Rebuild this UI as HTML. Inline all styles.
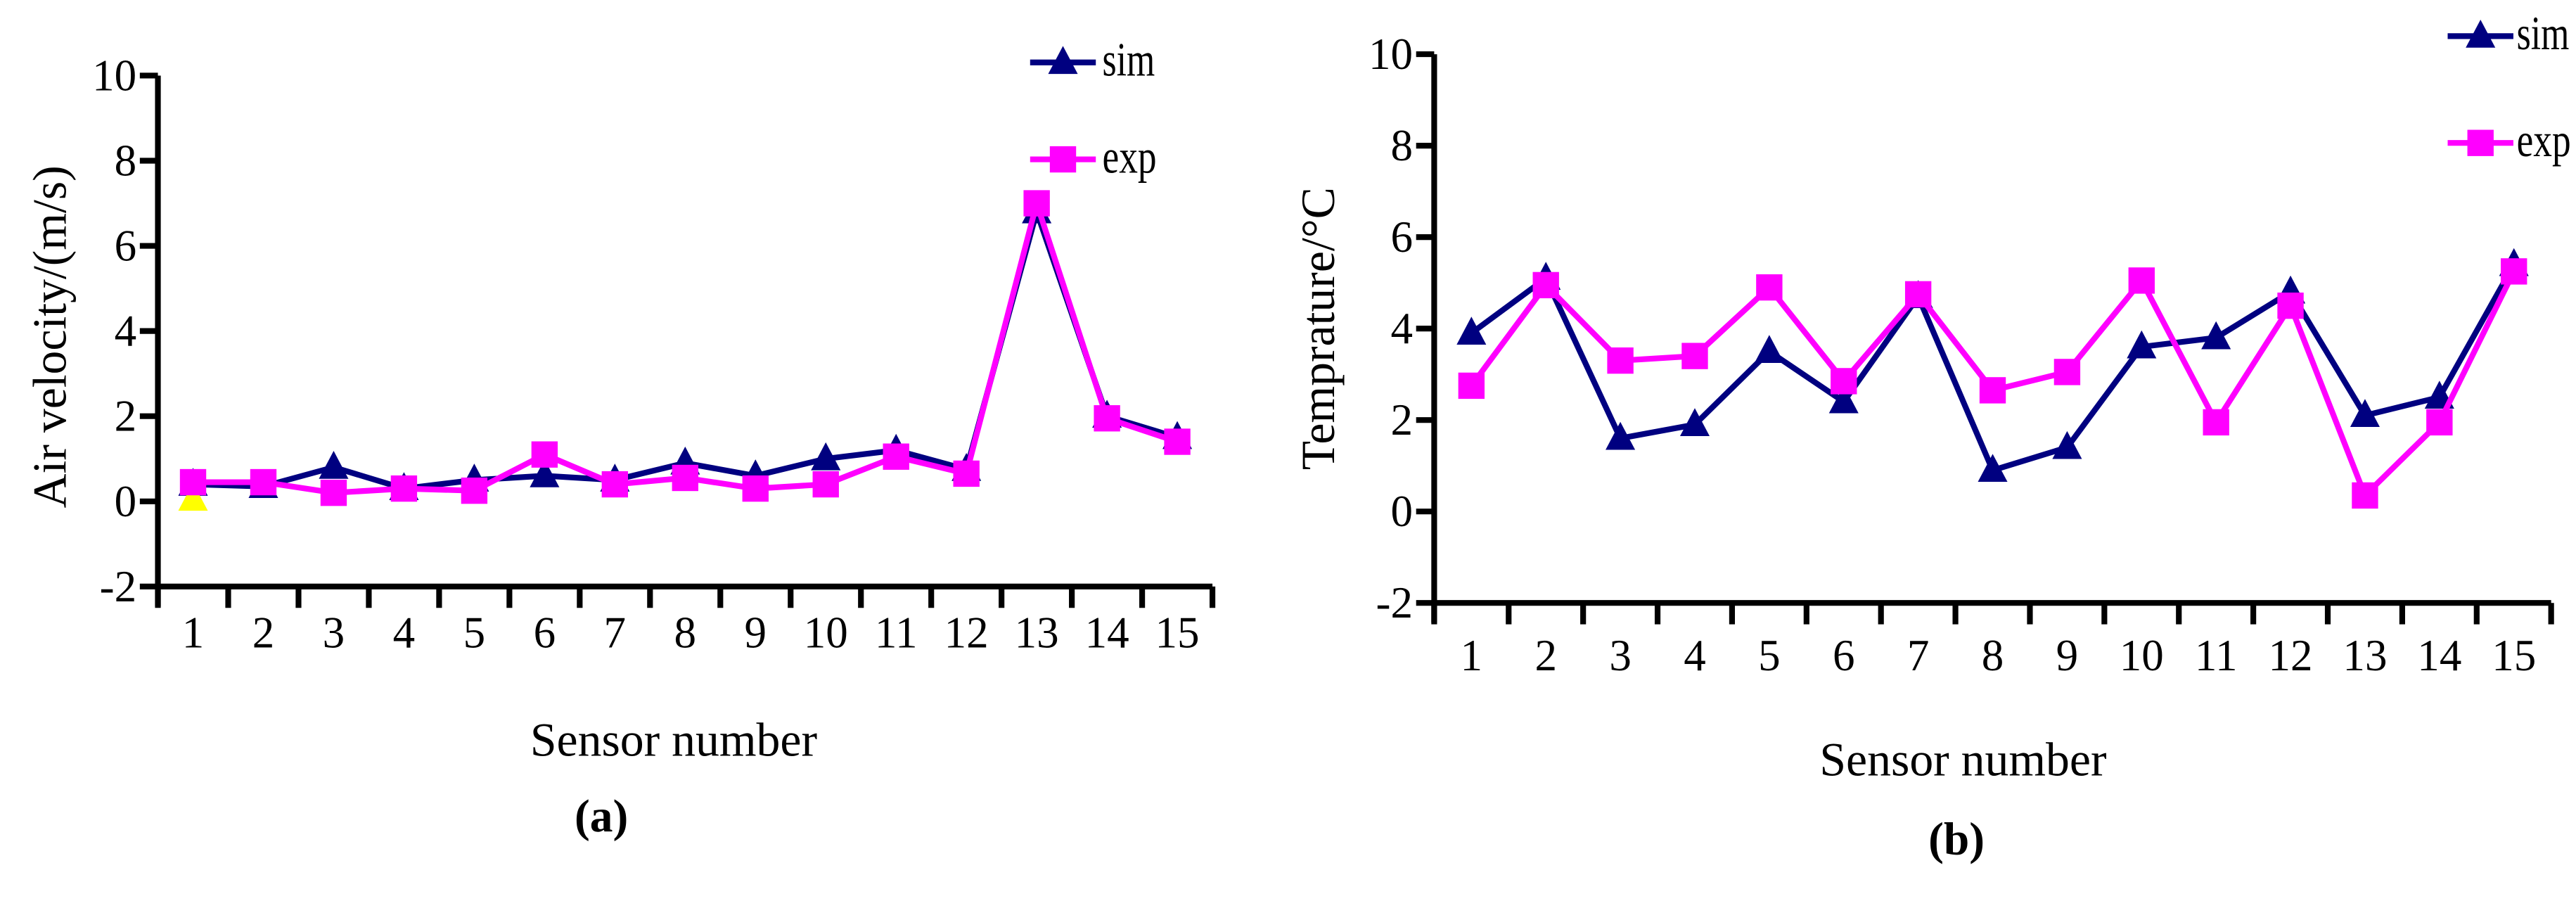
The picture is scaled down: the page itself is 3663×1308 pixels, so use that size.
<!DOCTYPE html>
<html><head><meta charset="utf-8"><style>
html,body{margin:0;padding:0;background:#fff;}
svg{display:block;font-family:"Liberation Serif",serif;}
</style></head><body>
<svg id="fig" width="3663" height="1308" viewBox="0 0 1568 560" xmlns="http://www.w3.org/2000/svg"></svg>
<script>
const categories = [1,2,3,4,5,6,7,8,9,10,11,12,13,14,15];
const yTicks = [-2,0,2,4,6,8,10];
const simA = [0.4,0.35,0.8,0.3,0.5,0.6,0.5,0.9,0.6,1.0,1.2,0.75,6.8,2.0,1.5];
const expA = [0.45,0.45,0.2,0.3,0.25,1.1,0.4,0.55,0.3,0.4,1.05,0.65,7.0,1.95,1.4];
const simB = [3.9,5.1,1.6,1.9,3.5,2.4,4.7,0.9,1.4,3.6,3.8,4.8,2.1,2.5,5.4];
const expB = [2.75,4.95,3.3,3.4,4.9,2.85,4.75,2.65,3.05,5.05,1.95,4.5,0.35,1.95,5.25];
const seriesNames = ["sim","exp"];

const NS="http://www.w3.org/2000/svg";
const svg=document.getElementById('fig');
function mk(tag,attrs,parent,text){const e=document.createElementNS(NS,tag);for(const k in attrs)e.setAttribute(k,attrs[k]);if(text!==undefined)e.textContent=text;(parent||svg).appendChild(e);return e;}

function tri(g,x,y,c){return mk('polygon',{points:`${x},${y-10} ${x-9},${y+7} ${x+9},${y+7}`,fill:c},g);}
function sq(g,x,y,c){return mk('rect',{x:x-8,y:y-8,width:16,height:16,fill:c},g);}

function chart(cfg){
  const g=mk('g',{});
  
  
  const {x0,x1,yTop,yBot}=cfg;
  const ymin=-2,ymax=10;
  const Y=v=>yBot-(v-ymin)/(ymax-ymin)*(yBot-yTop);
  const cw=(x1-x0)/categories.length;
  const X=i=>x0+cw*(i+0.5);
  const ya=mk('line',{x1:x0,y1:yTop,x2:x0,y2:yBot+12,stroke:'#000','stroke-width':3.5},g);
  
  yTicks.forEach(t=>{
    mk('line',{x1:x0-11,y1:Y(t),x2:x0,y2:Y(t),stroke:'#000','stroke-width':3.5},g);
    const tl=mk('text',{x:x0-13,y:Y(t)+9,'text-anchor':'end','font-size':27},g,String(t));
    
  });
  const xa=mk('line',{x1:x0,y1:yBot,x2:x1,y2:yBot,stroke:'#000','stroke-width':3.5},g);
  
  for(let i=0;i<=categories.length;i++){
    mk('line',{x1:x0+cw*i,y1:yBot,x2:x0+cw*i,y2:yBot+13,stroke:'#000','stroke-width':3.5},g);
  }
  categories.forEach((c,i)=>{
    const tl=mk('text',{x:X(i),y:cfg.catY,'text-anchor':'middle','font-size':27},g,String(c));
    
  });
  const xt=mk('text',{x:cfg.xtX,y:cfg.xtY,'text-anchor':'middle','font-size':29},g,'Sensor number');
  
  const yt=mk('text',{x:0,y:0,'text-anchor':'middle','font-size':29,transform:`translate(${cfg.ytX},${cfg.ytY}) rotate(-90)`},g,cfg.ytitle);
  
  const pl=mk('text',{x:cfg.plX,y:cfg.plY,'text-anchor':'middle','font-size':28,'font-weight':'bold'},g,cfg.panel);
  
  const sp=mk('polyline',{points:cfg.sim.map((v,i)=>X(i)+','+Y(v)).join(' '),fill:'none',stroke:'#000080','stroke-width':3.5},g);
  
  cfg.sim.forEach((v,i)=>{const m=tri(g,X(i),Y(v),'#000080');});
  if(cfg.yellow){const m=tri(g,X(0),Y(0.05),'#ffff00');}
  const ep=mk('polyline',{points:cfg.exp.map((v,i)=>X(i)+','+Y(v)).join(' '),fill:'none',stroke:'#ff00ff','stroke-width':3.5},g);
  
  cfg.exp.forEach((v,i)=>{const m=sq(g,X(i),Y(v),'#ff00ff');});
  const lg=mk('g',{},g);
  
  const lx=cfg.legX;
  mk('line',{x1:lx,y1:cfg.legY1,x2:lx+40,y2:cfg.legY1,stroke:'#000080','stroke-width':3.5},lg);
  tri(lg,lx+20,cfg.legY1,'#000080');
  const s1=mk('text',{x:lx+cfg.legT,y:cfg.legY1+8,'font-size':29,textLength:32,lengthAdjust:'spacingAndGlyphs'},lg,seriesNames[0]);
  
  mk('line',{x1:lx,y1:cfg.legY2,x2:lx+40,y2:cfg.legY2,stroke:'#ff00ff','stroke-width':3.5},lg);
  sq(lg,lx+20,cfg.legY2,'#ff00ff');
  const s2=mk('text',{x:lx+cfg.legT,y:cfg.legY2+8,'font-size':29,textLength:33,lengthAdjust:'spacingAndGlyphs'},lg,seriesNames[1]);
  
}
chart({name:'chart-a-air-velocity',x0:96,x1:738,yTop:46,yBot:357,catY:394,xtX:410,xtY:460,ytX:40,ytY:205,ytitle:'Air velocity/(m/s)',plX:366,plY:506,panel:'(a)',sim:simA,exp:expA,yellow:true,legX:627,legY1:38,legY2:97,legT:44});
chart({name:'chart-b-temperature',x0:873,x1:1553,yTop:33,yBot:367,catY:408,xtX:1195,xtY:472,ytX:812,ytY:200,ytitle:'Temprature/°C',plX:1191,plY:520,panel:'(b)',sim:simB,exp:expB,yellow:false,legX:1490,legY1:22,legY2:87,legT:42});
</script>
</body></html>
